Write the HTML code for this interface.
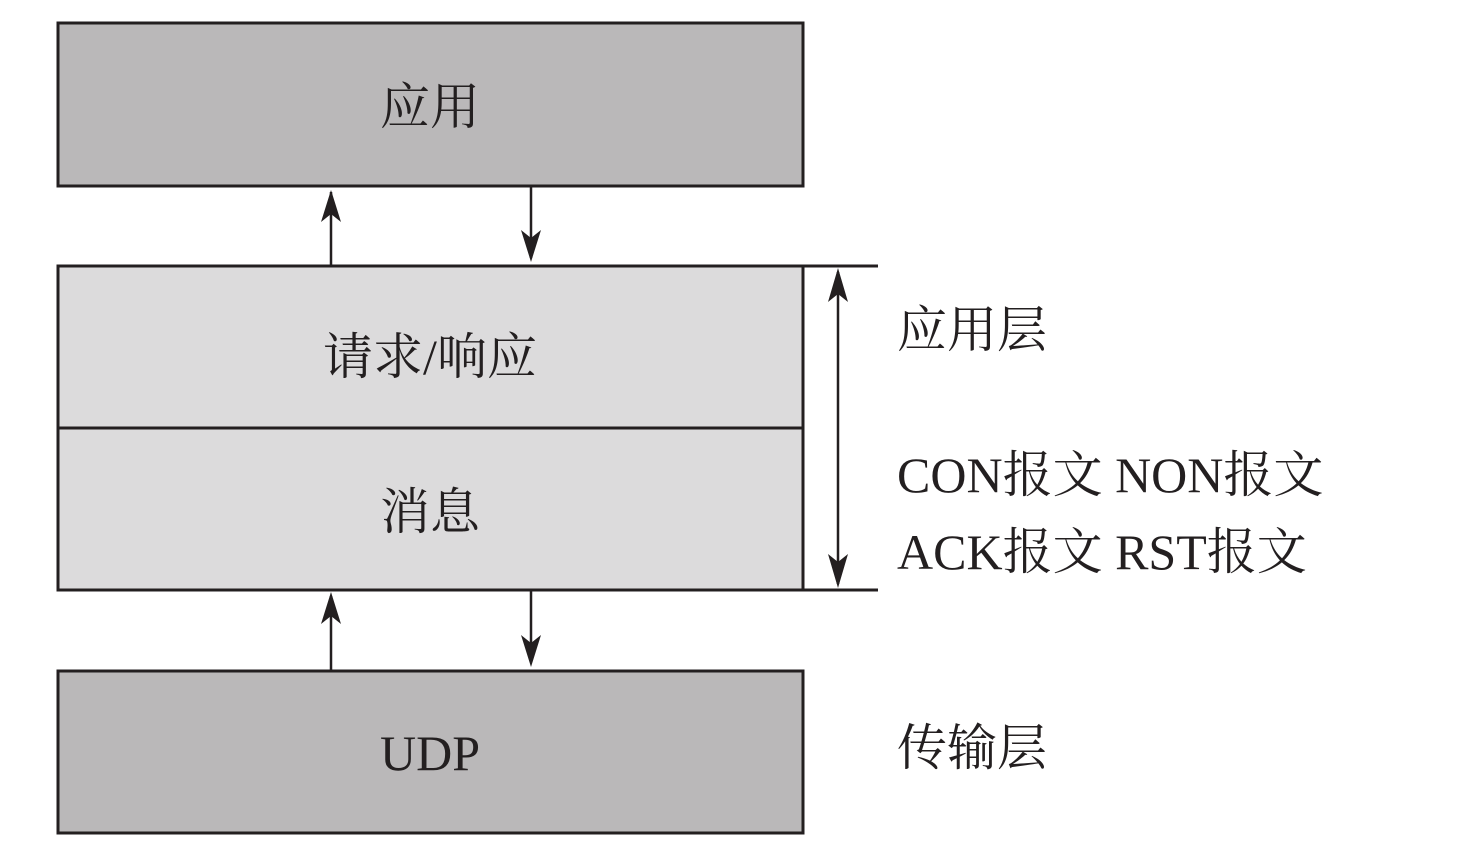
<!DOCTYPE html>
<html><head><meta charset="utf-8"><style>
html,body{margin:0;padding:0;background:#fff;}
body{width:1458px;height:858px;overflow:hidden;}
text{font-family:"Liberation Serif","Noto Serif CJK SC",serif;fill:#231f20;}
</style></head><body>
<svg width="1458" height="858" viewBox="0 0 1458 858" xmlns="http://www.w3.org/2000/svg">
<defs>
<marker id="a" viewBox="0 0 10 10" refX="10" refY="5" markerWidth="10" markerHeight="10" markerUnits="userSpaceOnUse" orient="auto">
<path d="M0,0 L10,5 L0,10 L3,5 Z" fill="#231f20"/>
</marker>
</defs>
<g stroke="#231f20" stroke-width="3">
<rect x="58" y="23" width="745" height="163" fill="#bab8b9"/>
<rect x="58" y="266" width="745" height="324" fill="#dcdbdc"/>
<line x1="58" y1="428" x2="803" y2="428"/>
<rect x="58" y="671" width="745" height="162" fill="#bab8b9"/>
<line x1="803" y1="266" x2="878" y2="266"/>
<line x1="803" y1="590" x2="878" y2="590"/>
</g>
<g stroke="#231f20" stroke-width="2.5" fill="#231f20">
<line x1="331" y1="266" x2="331" y2="192"/>
<path d="M331,190 L321,222 L331,214 L341,222 Z" stroke="none"/>
<line x1="531" y1="186" x2="531" y2="258"/>
<path d="M531,262 L521,230 L531,238 L541,230 Z" stroke="none"/>
<line x1="331" y1="671" x2="331" y2="596"/>
<path d="M331,592 L321,624 L331,616 L341,624 Z" stroke="none"/>
<line x1="531" y1="590" x2="531" y2="662"/>
<path d="M531,667 L521,635 L531,643 L541,635 Z" stroke="none"/>
<line x1="838" y1="272" x2="838" y2="584"/>
<path d="M838,268 L828,302 L838,294 L848,302 Z" stroke="none"/>
<path d="M838,588 L828,554 L838,562 L848,554 Z" stroke="none"/>
</g>
<g font-size="50" text-anchor="middle">
<text x="430" y="124">应用</text>
<text x="430" y="374">请求/响应</text>
<text x="430" y="529">消息</text>
<text x="430" y="770">UDP</text>
</g>
<g font-size="50">
<text x="897" y="347">应用层</text>
<text x="897" y="492">CON报文 NON报文</text>
<text x="897" y="569">ACK报文 RST报文</text>
<text x="897" y="765">传输层</text>
</g>
</svg>
</body></html>
